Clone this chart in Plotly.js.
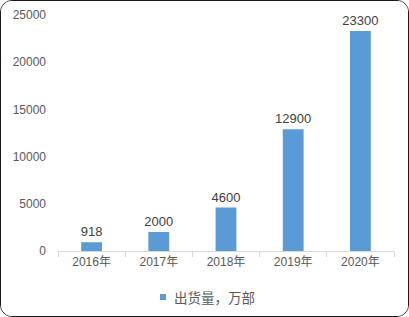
<!DOCTYPE html>
<html>
<head>
<meta charset="utf-8">
<script src="https://cdn.plot.ly/plotly-3.0.1.min.js"></script>
<style>
html,body{margin:0;padding:0;background:#fff;}
#wrap{width:407px;height:315px;border:1px solid #1a1a1a;border-radius:12px;overflow:hidden;background:#fff;}
#chart{width:407px;height:315px;}
</style>
</head>
<body>
<div id="wrap"><div id="chart"></div></div>
<script>
const categories = ['2016年','2017年','2018年','2019年','2020年'];
const shipments = [918, 2000, 4600, 12900, 23300];
const seriesName = '出货量，万部';
const yTicks = [0, 5000, 10000, 15000, 20000, 25000];

const barColor = '#5b9bd5';
const numFont = 'Liberation Sans, Arial, sans-serif';
const cjkFont = 'Liberation Sans, Noto Sans CJK SC, sans-serif';

const data = [
  {
    type: 'bar',
    x: categories,
    y: shipments,
    name: seriesName,
    marker: {color: barColor},
    text: shipments.map(String),
    textposition: 'outside',
    constraintext: 'none',
    textfont: {family: numFont, size: 13, color: '#404040'},
    cliponaxis: false,
    showlegend: false,
    hoverinfo: 'x+y'
  }
];

const layout = {
  width: 407,
  height: 315,
  margin: {l: 57, r: 14, t: 14, b: 65},
  paper_bgcolor: '#ffffff',
  plot_bgcolor: '#ffffff',
  bargap: 0.69,
  xaxis: {
    type: 'category',
    showline: true,
    linecolor: '#d9d9d9',
    linewidth: 1,
    ticks: 'outside',
    tickson: 'boundaries',
    ticklen: 5,
    tickcolor: '#d9d9d9',
    showgrid: false,
    zeroline: false,
    tickfont: {family: cjkFont, size: 12, color: '#595959'}
  },
  yaxis: {
    range: [0, 25000],
    tickvals: yTicks,
    ticktext: yTicks.map(String),
    showgrid: false,
    zeroline: false,
    showline: false,
    ticks: '',
    ticklabelstandoff: 11,
    tickfont: {family: numFont, size: 12, color: '#595959'}
  },
  showlegend: false,
  shapes: [
    {
      type: 'rect', xref: 'paper', yref: 'paper',
      x0: 0.3036, x1: 0.3214, y0: -0.2076, y1: -0.182,
      fillcolor: barColor, line: {width: 0}
    }
  ],
  annotations: [
    {
      xref: 'paper', yref: 'paper', x: 0.339, y: -0.195,
      xanchor: 'left', yanchor: 'middle', showarrow: false,
      text: seriesName,
      font: {family: 'Noto Sans CJK SC, sans-serif', size: 13.5, color: '#595959'}
    }
  ]
};

Plotly.newPlot('chart', data, layout, {displayModeBar: false, staticPlot: true});
</script>
</body>
</html>
